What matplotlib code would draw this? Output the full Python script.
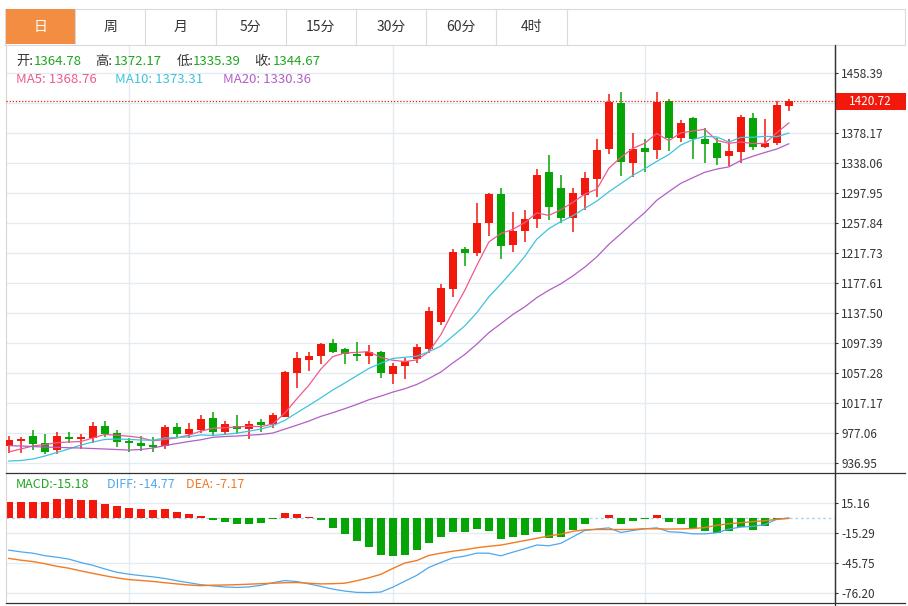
import matplotlib.pyplot as plt
import matplotlib.transforms as mtransforms
from matplotlib.patches import Rectangle

plt.rcParams['font.family'] = ['Noto Sans CJK SC', 'DejaVu Sans']

# ---- data ----
tabs = ['日', '周', '月', '5分', '15分', '30分', '60分', '4时']

opens = [960.5, 967.2, 973.1, 963.7, 954.7, 971.7, 969.8, 971.2, 987.2, 977.9,
         966.8, 964.1, 961.0, 959.7, 985.5, 975.7, 981.1, 997.5, 978.8, 986.8,
         982.4, 992.2, 989.1, 999.3, 1058.1, 1075.5, 1080.4, 1097.4, 1089.8, 1083.1,
         1080.4, 1086.2, 1056.3, 1067.0, 1076.0, 1090.2, 1125.9, 1170.0, 1223.1, 1218.5,
         1257.8, 1297.4, 1229.2, 1247.9, 1263.6, 1326.8, 1305.0, 1264.5, 1295.3, 1317.1,
         1357.2, 1419.1, 1338.1, 1358.1, 1355.8, 1420.9, 1372.3, 1398.6, 1370.5, 1364.78,
         1347.4, 1353.2, 1398.2, 1359.4, 1365.6, 1414.3]
closes = [967.7, 969.4, 962.4, 952.5, 973.4, 969.8, 971.7, 986.4, 976.1, 965.0,
          963.7, 959.7, 958.7, 985.1, 976.1, 982.4, 996.2, 979.2, 989.5, 982.4,
          989.9, 988.2, 1001.5, 1058.6, 1077.3, 1080.4, 1096.5, 1085.4, 1082.7, 1080.8,
          1086.2, 1057.3, 1067.0, 1073.7, 1092.0, 1140.2, 1170.9, 1219.9, 1218.5, 1257.8,
          1297.0, 1227.9, 1247.9, 1263.6, 1322.8, 1280.0, 1265.3, 1297.9, 1318.4, 1355.4,
          1419.6, 1339.4, 1357.2, 1353.2, 1420.4, 1371.5, 1391.5, 1370.1, 1363.8, 1344.67,
          1354.5, 1400.0, 1359.4, 1364.8, 1415.6, 1420.72]
highs = [973.4, 972.1, 981.1, 976.5, 978.8, 978.4, 976.1, 992.2, 993.5, 981.1,
         970.8, 973.4, 971.7, 988.6, 990.8, 990.4, 1001.1, 1005.5, 993.9, 1001.9,
         993.9, 996.2, 1004.6, 1060.4, 1085.4, 1085.4, 1098.2, 1103.1, 1091.5, 1099.1,
         1095.1, 1086.7, 1070.6, 1077.7, 1096.0, 1145.9, 1176.7, 1223.5, 1226.5, 1284.6,
         1298.3, 1304.6, 1273.3, 1275.2, 1330.4, 1349.1, 1322.4, 1305.0, 1326.0, 1370.1,
         1430.7, 1433.4, 1378.6, 1370.5, 1433.0, 1424.0, 1395.9, 1400.0, 1384.8, 1372.17,
         1370.9, 1403.0, 1405.7, 1396.9, 1421.4, 1424.0]
lows = [951.1, 951.1, 954.7, 949.4, 949.4, 964.5, 955.7, 964.5, 972.5, 959.1,
        952.1, 953.8, 951.7, 956.1, 972.5, 971.2, 977.1, 974.4, 975.7, 976.1,
        969.0, 979.2, 984.5, 998.5, 1037.2, 1060.4, 1069.3, 1084.0, 1070.1, 1074.1,
        1069.3, 1050.6, 1042.6, 1050.1, 1071.4, 1084.0, 1121.5, 1159.3, 1201.1, 1214.5,
        1241.3, 1210.1, 1219.5, 1233.2, 1251.1, 1262.2, 1257.8, 1246.6, 1275.6, 1292.6,
        1350.1, 1321.5, 1320.1, 1326.8, 1343.8, 1354.5, 1366.9, 1343.4, 1338.9, 1335.39,
        1334.5, 1338.1, 1355.4, 1358.5, 1362.9, 1408.4]

ma5 = [952.1, 956.1, 960.1, 962.1, 964.5, 965.5, 966.0, 970.8, 975.5, 974.5,
       973.2, 971.2, 967.0, 968.8, 971.0, 974.6, 979.9, 983.8, 984.6, 985.5,
       986.5, 986.0, 989.5, 1004.1, 1023.1, 1041.2, 1062.9, 1079.6, 1084.5, 1085.2,
       1086.3, 1078.5, 1074.8, 1073.0, 1075.2, 1086.0, 1108.8, 1139.3, 1168.3, 1201.5,
       1232.8, 1244.2, 1249.8, 1258.8, 1271.8, 1268.4, 1275.9, 1285.9, 1296.9, 1303.4,
       1331.3, 1346.1, 1358.0, 1365.0, 1378.0, 1368.3, 1378.8, 1381.3, 1383.5, 1368.76,
       1364.9, 1366.6, 1364.5, 1364.7, 1378.9, 1392.1]
ma10 = [940.0, 940.7, 942.7, 946.7, 951.4, 956.1, 961.4, 965.4, 968.8, 969.4,
        969.0, 968.1, 967.7, 971.0, 971.2, 972.5, 974.9, 974.2, 975.6, 977.3,
        979.9, 982.8, 987.1, 994.4, 1004.5, 1014.3, 1024.4, 1035.0, 1044.3, 1054.1,
        1063.8, 1070.7, 1077.2, 1078.7, 1080.2, 1086.2, 1093.6, 1107.1, 1120.7, 1138.4,
        1159.4, 1176.5, 1194.6, 1213.6, 1236.7, 1250.6, 1260.1, 1267.9, 1277.9, 1287.6,
        1299.9, 1311.0, 1322.0, 1330.9, 1340.7, 1349.8, 1362.5, 1369.7, 1374.2, 1373.31,
        1366.6, 1372.7, 1372.9, 1374.1, 1373.6, 1378.5]
ma20 = [960.5, 960.1, 959.4, 958.7, 958.3, 957.8, 957.4, 956.7, 956.1, 955.4,
        954.7, 955.4, 957.4, 960.7, 963.4, 966.1, 968.4, 971.7, 972.8, 973.4,
        974.5, 975.5, 977.4, 982.7, 987.9, 993.4, 999.7, 1004.6, 1010.0, 1015.7,
        1021.9, 1026.8, 1032.2, 1036.6, 1042.4, 1050.3, 1059.0, 1071.1, 1082.5, 1096.3,
        1111.6, 1123.6, 1135.9, 1146.2, 1158.5, 1168.4, 1176.9, 1187.5, 1199.3, 1213.0,
        1229.7, 1243.8, 1258.3, 1272.3, 1288.7, 1300.2, 1311.3, 1318.8, 1326.1, 1330.36,
        1333.3, 1341.9, 1347.5, 1352.5, 1357.2, 1364.2]

diff = [-32.4, -34.2, -35.5, -38.0, -39.6, -41.5, -45.0, -47.8, -51.5, -54.9,
        -56.8, -58.3, -59.5, -61.2, -63.5, -65.5, -67.5, -68.7, -69.8, -70.3,
        -69.8, -68.2, -65.5, -63.3, -64.3, -66.7, -69.2, -72.0, -74.0, -75.3,
        -75.5, -75.0, -70.0, -64.0, -58.0, -50.0, -45.0, -40.3, -38.5, -35.5,
        -35.5, -38.2, -34.5, -31.0, -27.2, -28.0, -25.5, -19.0, -12.5, -11.0,
        -9.8, -14.5, -12.5, -10.8, -9.8, -13.7, -14.3, -15.9, -15.9, -14.77,
        -11.0, -9.0, -8.3, -6.5, -1.0, 0.3]
dea = [-40.8, -42.6, -44.0, -46.2, -48.8, -50.8, -53.5, -56.0, -58.4, -60.6,
       -62.3, -63.2, -64.2, -65.5, -66.7, -67.8, -68.5, -68.0, -67.8, -67.5,
       -67.0, -66.5, -66.0, -65.5, -65.3, -66.0, -66.7, -66.5, -66.0, -63.5,
       -60.5, -57.0, -51.0, -45.5, -43.0, -37.8, -35.5, -33.5, -32.0, -30.0,
       -28.5, -27.3, -25.0, -22.7, -20.4, -18.0, -16.2, -13.3, -11.8, -11.4,
       -11.5, -11.5, -11.3, -10.6, -10.8, -11.0, -10.9, -10.5, -9.5, -7.17,
       -5.6, -4.6, -3.5, -2.5, -1.2, -0.2]
macd = [16.9, 16.9, 16.2, 16.6, 19.0, 19.0, 18.6, 18.3, 14.9, 12.2,
        10.8, 9.1, 8.8, 9.5, 6.4, 4.7, 2.7, -2.0, -3.4, -6.1,
        -6.1, -5.1, -1.0, 5.4, 4.7, 1.7, -2.0, -9.5, -16.2, -22.7,
        -29.4, -36.9, -37.9, -36.9, -32.1, -25.0, -19.3, -14.2, -13.9, -11.2,
        -12.9, -21.3, -19.3, -16.6, -13.9, -20.0, -18.6, -11.5, -5.8, 0.7,
        3.7, -5.8, -2.4, -0.7, 3.4, -4.1, -5.8, -10.2, -13.2, -15.18,
        -12.5, -8.5, -12.2, -7.8, -0.4, 0.3]

price_ticks = [1458.39, 1418.28, 1378.17, 1338.06, 1297.95, 1257.84, 1217.73,
               1177.61, 1137.50, 1097.39, 1057.28, 1017.17, 977.06, 936.95]
macd_ticks = [15.16, -15.29, -45.75, -76.20]
month_starts = [10, 32, 53]

info = [('开:', '1364.78'), ('高:', '1372.17'), ('低:', '1335.39'), ('收:', '1344.67')]
ma_labels = [('MA5: 1368.76', '#ee5a8c'), ('MA10: 1373.31', '#3ec4dc'), ('MA20: 1330.36', '#b35ec6')]
macd_labels = [('MACD:-15.18', '#1ea51e'), ('DIFF: -14.77', '#4ea8ee'), ('DEA: -7.17', '#f27a22')]

RED = '#f2180c'
GREEN = '#05a505'
GRID = '#e4ebf1'
TXT = '#333333'

W, H = 908, 606
fig = plt.figure(figsize=(W / 100, H / 100), dpi=100)
fig.patch.set_facecolor('white')


def fx(px):
    return px / W


def fy(py):
    return 1 - py / H


ax1 = fig.add_axes([fx(6), fy(473.3), fx(835) - fx(6), fy(44) - fy(473.3)])
ax2 = fig.add_axes([fx(6), fy(603.3), fx(835) - fx(6), fy(473.3) - fy(603.3)])

n = len(closes)
xs = list(range(n))
cols = [RED if c >= o else GREEN for o, c in zip(opens, closes)]
bottoms = [min(o, c) for o, c in zip(opens, closes)]
heights = [max(abs(c - o), 1.2) for o, c in zip(opens, closes)]

# ---- price pane ----
for a in (ax1, ax2):
    a.set_xlim(-0.233, 68.85)
    a.set_xticks([])
    for m in month_starts:
        a.axvline(m, color=GRID, lw=1, zorder=0)
    a.yaxis.tick_right()
    a.tick_params(axis='y', length=2.5, width=0.8, color=TXT, labelsize=8.5,
                  labelcolor=TXT, pad=2)
    a.grid(axis='y', color=GRID, lw=1, zorder=0)
    a.set_axisbelow(True)
    a.spines['top'].set_visible(False)
    a.spines['bottom'].set_visible(False)
    a.spines['left'].set_color('#d6d6d6')
    a.spines['right'].set_color(TXT)
    a.spines['right'].set_linewidth(0.9)

ax1.set_ylim(923.6, 1497.6)
ax1.set_yticks(price_ticks)
ax1.set_yticklabels(['' if t == 1418.28 else f'{t:.2f}' for t in price_ticks])

ax1.vlines(xs, lows, highs, colors=cols, lw=1.1, zorder=2)
ax1.bar(xs, heights, bottom=bottoms, width=0.7, color=cols, lw=0, zorder=3)
ax1.plot(xs, ma5, color='#ee5a8c', lw=0.9, zorder=4)
ax1.plot(xs, ma10, color='#3ec4dc', lw=0.9, zorder=4)
ax1.plot(xs, ma20, color='#b35ec6', lw=0.9, zorder=4)

last = closes[-1]
ax1.axhline(last, color=RED, lw=0.9, ls=(0, (1, 1.5)), zorder=5)
trans = mtransforms.blended_transform_factory(ax1.transAxes, ax1.transData)
ax1.add_patch(Rectangle((1.001, last - 12), 70 / 829, 24, transform=trans,
                        clip_on=False, fc=RED, ec='none', zorder=6))
ax1.text(1 + 35 / 829, last, f'{last:.2f}', transform=trans, color='white',
         fontsize=8.5, ha='center', va='center', zorder=7)

# ---- MACD pane ----
ax2.set_ylim(-86.4, 45.6)
ax2.set_yticks(macd_ticks)
ax2.set_yticklabels([f'{t:.2f}' for t in macd_ticks])
ax2.axhline(0, color='#aad6ea', lw=1, ls=(0, (2, 2)), zorder=1)
ax2.bar(xs, macd, width=0.68, color=[RED if v >= 0 else GREEN for v in macd],
        lw=0, zorder=2)
ax2.plot(xs, diff, color='#4ea8ee', lw=0.9, zorder=3)
ax2.plot(xs, dea, color='#f27a22', lw=1.0, zorder=3)

# ---- overlay: tab bar, labels, frame lines ----
ov = fig.add_axes([0, 0, 1, 1], zorder=10)
ov.set_xlim(0, W)
ov.set_ylim(H, 0)
ov.axis('off')
ov.patch.set_alpha(0)

tab_w = 70.2
ov.add_patch(Rectangle((5, 8.5), 900, 36, fc='white', ec='#dadada', lw=0.8))
ov.add_patch(Rectangle((5.5, 9), tab_w - 0.5, 35, fc='#f28d42', ec='none'))
for i, t in enumerate(tabs):
    x0 = 5 + i * tab_w
    ov.plot([x0 + tab_w, x0 + tab_w], [8.5, 44.5], color='#dadada', lw=0.8)
    ov.text(x0 + tab_w / 2, 27, t, fontsize=10, ha='center', va='center',
            color='white' if i == 0 else TXT)

label_x = [16, 95, 177, 254]
value_x = [34, 113.5, 193, 272.5]
for (lab, val), lx, vx in zip(info, label_x, value_x):
    ov.text(lx, 61.5, lab, fontsize=9.5, color=TXT, va='center')
    ov.text(vx, 61.5, val, fontsize=9.5, color='#1ea51e', va='center')
for (lab, c), lx in zip(ma_labels, [16, 115, 223]):
    ov.text(lx, 79.5, lab, fontsize=9.5, color=c, va='center')
for (lab, c), lx in zip(macd_labels, [16, 107, 186]):
    ov.text(lx, 485, lab, fontsize=9, color=c, va='center')

ov.plot([6, 905], [473.3, 473.3], color=TXT, lw=0.9)
ov.plot([6, 905], [603.3, 603.3], color=TXT, lw=0.9)
ov.plot([835, 835], [44.5, 606], color=TXT, lw=0.9)

fig.savefig('out.png', dpi=100)
